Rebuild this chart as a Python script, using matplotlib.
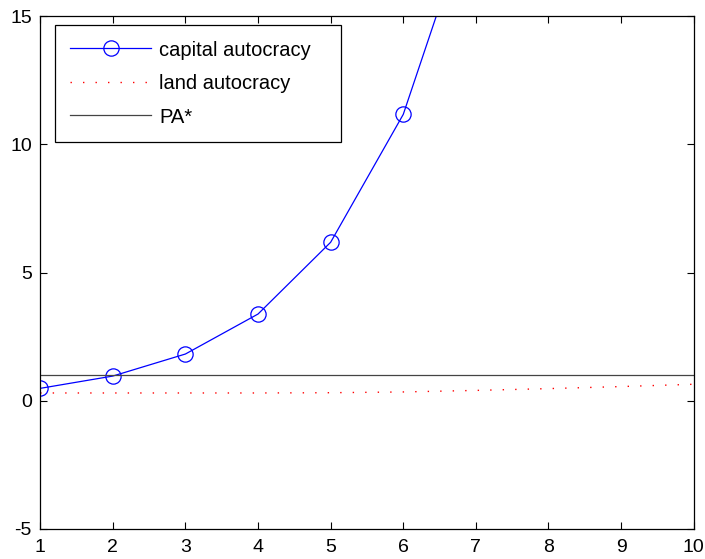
import matplotlib.pyplot as plt

plt.rcParams['font.family'] = ['Liberation Sans', 'DejaVu Sans']
plt.rcParams['axes.unicode_minus'] = False

# Data
periods = [1, 2, 3, 4, 5, 6, 7, 8, 9, 10]
capital_autocracy = [0.48, 0.96, 1.82, 3.38, 6.18, 11.17, 19.6, 34.0, 58.0, 100.0]
land_autocracy = [0.30, 0.30, 0.30, 0.30, 0.31, 0.34, 0.40, 0.47, 0.55, 0.64]
pa_star = [1.0] * len(periods)


def plot_results():
    fig = plt.figure(figsize=(7.05, 5.59), dpi=100)
    ax = fig.add_axes([0.057, 0.054, 0.927, 0.917])

    ax.plot(periods, capital_autocracy, color='blue', linewidth=0.9,
            marker='o', markersize=11, markerfacecolor='none',
            markeredgewidth=0.9, label='capital autocracy')
    ax.plot(periods, land_autocracy, color='red', linewidth=1.0,
            linestyle=(0, (1, 8)), label='land autocracy')
    ax.plot(periods, pa_star, color='#444444', linewidth=0.9, label='PA*')

    ax.set_xlim(1, 10)
    ax.set_ylim(-5, 15)
    ax.set_xticks(periods)
    ax.set_yticks([-5, 0, 5, 10, 15])
    ax.tick_params(direction='in', top=True, right=True, length=5,
                   width=0.8, labelsize=14)
    ax.tick_params(axis='x', pad=7)
    ax.tick_params(axis='y', pad=6)
    for spine in ax.spines.values():
        spine.set_linewidth(0.9)

    # legend box stretched to the width seen in the reference
    leg = ax.legend(loc='upper left', fontsize=14.5, fancybox=False,
                    framealpha=1, edgecolor='black', handlelength=4.0,
                    handletextpad=0.4, borderpad=0.75, labelspacing=0.72,
                    borderaxespad=0, mode='expand',
                    bbox_to_anchor=(0.023, 0.0, 0.437, 0.982))
    leg.get_frame().set_linewidth(0.9)

    fig.savefig('out.png', dpi=100)


if __name__ == "__main__":
    plot_results()
